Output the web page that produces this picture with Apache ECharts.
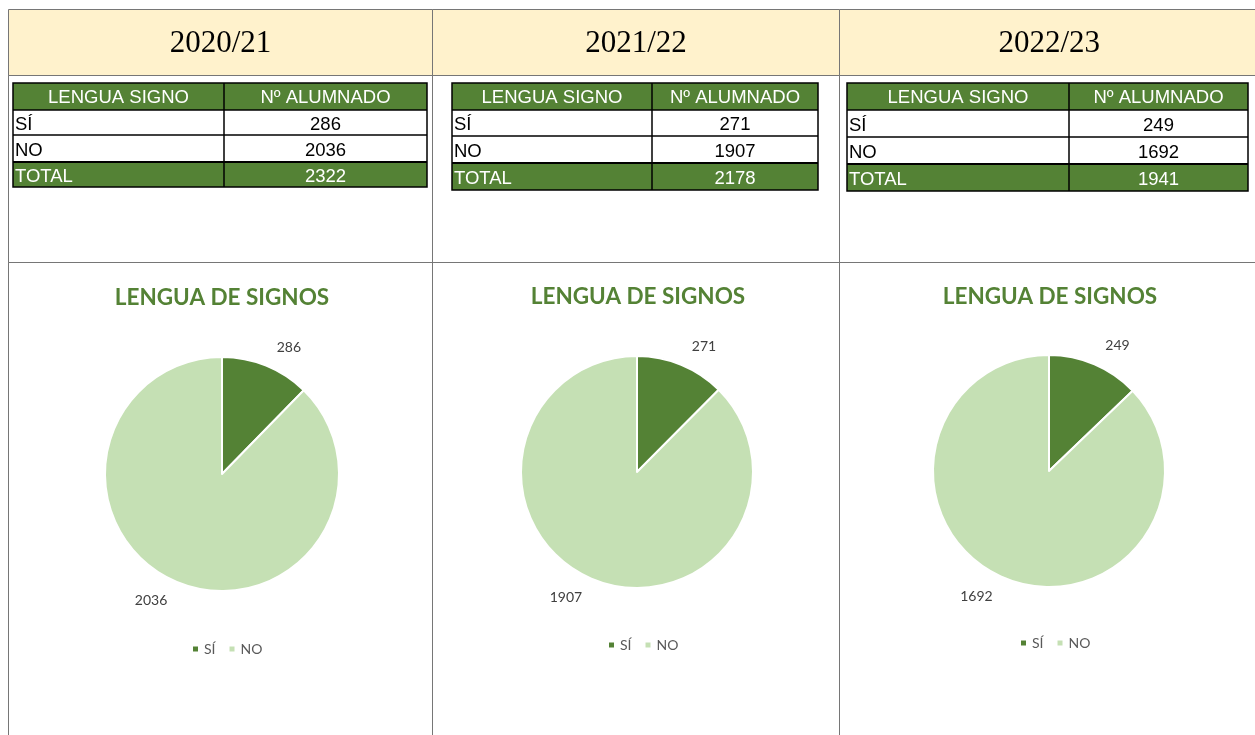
<!DOCTYPE html>
<html><head><meta charset="utf-8">
<script src="https://cdn.jsdelivr.net/npm/echarts@6/dist/echarts.min.js"></script>
<style>html,body{margin:0;padding:0;background:#fff}#c{width:1255px;height:735px}</style>
</head><body><div id="c"></div>
<script>
// ---- data ----
const years = ['2020/21', '2021/22', '2022/23'];
const categories = ['SÍ', 'NO'];
const siValues = [286, 271, 249];
const noValues = [2036, 1907, 1692];
const totalValues = [2322, 2178, 1941];
const tableHeaders = ['LENGUA SIGNO', 'Nº ALUMNADO'];
const totalLabel = 'TOTAL';
const chartTitle = 'LENGUA DE SIGNOS';

// ---- styling / layout ----
const GREEN = '#548235', LIGHT = '#C5E0B4', HEAD = '#FFF2CC', GRID = '#767676';
const colL = [8.5, 432.5, 839.5];
const colR = [432.5, 839.5, 1262];
const tables = [
  { x0: 13, xm: 224, x1: 427, ys: [83, 110, 135, 162, 187] },
  { x0: 452, xm: 652, x1: 818, ys: [83, 110, 136, 163, 190] },
  { x0: 847, xm: 1069, x1: 1248, ys: [83, 110, 137, 164, 191] }
];
const pies = [
  { cx: 222, cy: 474, r: 117, tx: 222, ty: 298, lx: 191, ly: 642 },
  { cx: 637, cy: 472, r: 116, tx: 638, ty: 297, lx: 607, ly: 638 },
  { cx: 1049, cy: 471, r: 116, tx: 1050, ty: 297, lx: 1019, ly: 636 }
];

const els = [];
years.forEach((yr, i) => {
  const L = colL[i], R = colR[i];
  els.push({ type: 'rect', silent: true, shape: { x: L, y: 9.5, width: R - L, height: 66 },
    style: { fill: HEAD, stroke: GRID, lineWidth: 1 } });
  els.push({ type: 'rect', silent: true, shape: { x: L, y: 75.5, width: R - L, height: 187 },
    style: { fill: 'none', stroke: GRID, lineWidth: 1 } });
  els.push({ type: 'rect', silent: true, shape: { x: L, y: 262.5, width: R - L, height: 500 },
    style: { fill: 'none', stroke: GRID, lineWidth: 1 } });
  els.push({ type: 'text', silent: true, style: { text: yr, x: (L + Math.min(R, 1255)) / 2 + (i === 2 ? 2 : 0), y: 44,
    font: '31px "Liberation Serif"', fill: '#000', align: 'center', verticalAlign: 'middle' } });

  // table
  const t = tables[i], ys = t.ys;
  els.push({ type: 'rect', silent: true, shape: { x: t.x0, y: ys[0], width: t.x1 - t.x0, height: ys[1] - ys[0] },
    style: { fill: GREEN } });
  els.push({ type: 'rect', silent: true, shape: { x: t.x0, y: ys[3], width: t.x1 - t.x0, height: ys[4] - ys[3] },
    style: { fill: GREEN } });
  els.push({ type: 'rect', silent: true, shape: { x: t.x0, y: ys[0], width: t.x1 - t.x0, height: ys[4] - ys[0] },
    style: { fill: 'none', stroke: '#000', lineWidth: 1.5 } });
  [1, 2, 3].forEach(k => {
    els.push({ type: 'line', silent: true, shape: { x1: t.x0, y1: ys[k], x2: t.x1, y2: ys[k] },
      style: { stroke: '#000', lineWidth: k === 3 ? 2 : 1.5 } });
  });
  els.push({ type: 'line', silent: true, shape: { x1: t.xm, y1: ys[0], x2: t.xm, y2: ys[4] },
    style: { stroke: '#000', lineWidth: 1.5 } });
  const font = '18.5px "Liberation Sans"';
  const c1 = (t.x0 + t.xm) / 2, c2 = (t.xm + t.x1) / 2;
  const mid = k => (ys[k] + ys[k + 1]) / 2 + (k === 0 ? 1 : 2);
  els.push({ type: 'text', silent: true, style: { text: tableHeaders[0], x: c1, y: mid(0), font, fill: '#fff', align: 'center', verticalAlign: 'middle' } });
  els.push({ type: 'text', silent: true, style: { text: tableHeaders[1], x: c2, y: mid(0), font, fill: '#fff', align: 'center', verticalAlign: 'middle' } });
  els.push({ type: 'text', silent: true, style: { text: categories[0], x: t.x0 + 2, y: mid(1), font, fill: '#000', align: 'left', verticalAlign: 'middle' } });
  els.push({ type: 'text', silent: true, style: { text: String(siValues[i]), x: c2, y: mid(1), font, fill: '#000', align: 'center', verticalAlign: 'middle' } });
  els.push({ type: 'text', silent: true, style: { text: categories[1], x: t.x0 + 2, y: mid(2), font, fill: '#000', align: 'left', verticalAlign: 'middle' } });
  els.push({ type: 'text', silent: true, style: { text: String(noValues[i]), x: c2, y: mid(2), font, fill: '#000', align: 'center', verticalAlign: 'middle' } });
  els.push({ type: 'text', silent: true, style: { text: totalLabel, x: t.x0 + 2, y: mid(3), font, fill: '#fff', align: 'left', verticalAlign: 'middle' } });
  els.push({ type: 'text', silent: true, style: { text: String(totalValues[i]), x: c2, y: mid(3), font, fill: '#fff', align: 'center', verticalAlign: 'middle' } });

  // pie title
  const p = pies[i];
  els.push({ type: 'text', silent: true, style: { text: chartTitle, x: p.tx, y: p.ty,
    font: 'bold 22.5px Lato', fill: GREEN, align: 'center', verticalAlign: 'middle' } });
});

const chart = echarts.init(document.getElementById('c'), null, { renderer: 'canvas' });
chart.setOption({
  animation: false,
  backgroundColor: '#fff',
  graphic: { elements: els },
  legend: pies.map(p => ({
    data: categories, left: p.lx, top: p.ly, padding: 0, orient: 'horizontal',
    itemWidth: 7, itemHeight: 7, itemGap: 12, icon: 'rect', selectedMode: false,
    textStyle: { color: '#595959', fontSize: 14, fontFamily: 'Lato' }
  })),
  series: pies.map((p, i) => ({
    type: 'pie',
    center: [p.cx, p.cy],
    radius: [0, p.r],
    startAngle: 90,
    clockwise: true,
    avoidLabelOverlap: false,
    emphasis: { disabled: true },
    itemStyle: { borderColor: '#fff', borderWidth: 2 },
    label: { show: true, position: 'outside', formatter: '{c}', color: '#404040',
      fontSize: 14, fontFamily: 'Lato', distanceToLabelLine: 3 },
    labelLine: { show: false, length: 20, length2: 0 },
    data: [
      { name: categories[0], value: siValues[i], itemStyle: { color: GREEN } },
      { name: categories[1], value: noValues[i], itemStyle: { color: LIGHT } }
    ]
  }))
});
</script>
</body></html>
